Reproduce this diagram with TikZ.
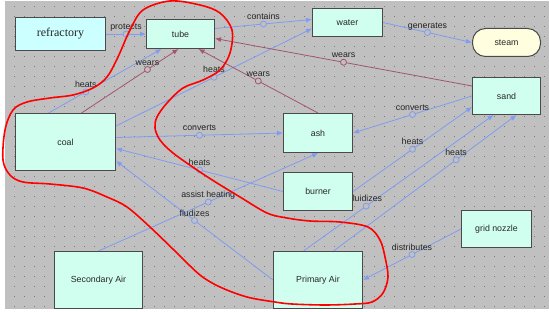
\documentclass[tikz,border=0pt]{standalone}
\usepackage{fontspec}
\setmainfont{Liberation Sans}
\newfontfamily\seriffont{Liberation Serif}
\usetikzlibrary{arrows.meta, positioning}

\definecolor{paper}{HTML}{C0C0C0}
\definecolor{dotgray}{HTML}{7A7A7A}
\definecolor{boxfill}{HTML}{D0FFF0}
\definecolor{refrfill}{HTML}{CCFFFF}
\definecolor{steamfill}{HTML}{FFFFE0}
\definecolor{boxline}{HTML}{4A4A4A}
\definecolor{linkblue}{HTML}{7F9CF0}
\definecolor{wearred}{HTML}{A35470}
\definecolor{textgray}{HTML}{262626}

\pgfdeclarelayer{grid}
\pgfdeclarelayer{links}
\pgfdeclarelayer{marks}
\pgfsetlayers{grid,links,main,marks}

\begin{document}
\begin{tikzpicture}[
        x=1pt, y=-1pt,
        box/.style={rectangle, draw=boxline, fill=boxfill, line width=1pt, inner sep=0pt, text=textgray, font=\fontsize{8.8}{10}\selectfont},
        arrow/.style={line width=0.8pt, draw=linkblue, ->, >={Latex[length=6pt,width=5pt]}},
        wear/.style={arrow, draw=wearred},
        hub/.style={circle, draw=linkblue, fill=paper, line width=0.8pt, inner sep=0pt, minimum size=6pt, label distance=1pt},
        wearhub/.style={hub, draw=wearred},
        lbl/.style={inner sep=0.5pt, text depth=0pt, text=textgray, font=\fontsize{8.8}{10}\selectfont},
        outline/.style={draw=red, line width=1.6pt}
    ]
        \useasboundingbox (0,0) rectangle (549,312);

        % dotted canvas
        \begin{pgfonlayer}{grid}
            \fill[paper] (5,1) rectangle (549,309);
            \foreach \gx in {14,24,...,544}
                \foreach \gy in {6,16,...,306}
                    \fill[dotgray] (\gx,\gy) rectangle ++(1,1);
        \end{pgfonlayer}

        % entities
        \node[box, anchor=north west, minimum width=90pt, minimum height=33pt, fill=refrfill, font=\seriffont\fontsize{12}{14}\selectfont] (refractory) at (15,17) {refractory};
        \node[box, right=40pt of refractory, minimum width=68pt, minimum height=29pt] (tube) {tube};
        \node[box, anchor=north west, minimum width=70pt, minimum height=28pt] (water) at (312,8) {water};
        \node[box, anchor=north west, minimum width=68pt, minimum height=28pt, rounded corners=13pt, fill=steamfill] (steam) at (472,28) {steam};
        \node[box, below=20pt of steam, minimum width=68pt, minimum height=37pt] (sand) {sand};
        \node[box, anchor=north west, minimum width=100pt, minimum height=57pt] (coal) at (15,113) {coal};
        \node[box, anchor=north west, minimum width=69pt, minimum height=39pt] (ash) at (283,113) {ash};
        \node[box, below=19pt of ash, minimum width=69pt, minimum height=38pt] (burner) {burner};
        \node[box, below=40pt of burner, minimum width=89pt, minimum height=57pt] (primair) {Primary Air};
        \node[box, left=130pt of primair, minimum width=88pt, minimum height=57pt] (secair) {Secondary Air};
        \node[box, anchor=north west, minimum width=70pt, minimum height=37pt] (grid) at (461,210) {grid nozzle};

        % relations
        \begin{pgfonlayer}{links}
            \draw[arrow] (refractory.east) -- node[hub, label={[lbl]above:protects}] {} (tube.west);
            \draw[arrow] ([yshift=5.5pt]tube.east) -- node[hub, label={[lbl]above:contains}] {} ([yshift=3pt]water.west);
            \draw[arrow] (water.east) -- node[hub, label={[lbl]above:generates}] {} (steam.west);
            \draw[arrow] ([xshift=-17pt]coal.north) -- node[hub, pos=.33, label={[lbl]above:heats}] {} ([xshift=-19pt]tube.south);
            \draw[wear] ([xshift=16pt]coal.north) -- node[wearhub, pos=.68, label={[lbl]above:wears}] {} ([xshift=-2pt]tube.south);
            \draw[arrow] ([yshift=16pt]coal.east) -- node[hub, label={[lbl]above:heats}] {} ([yshift=-6pt]water.west);
            \draw[wear] (ash.north) -- node[wearhub, label={[lbl]above:wears}] {} ([xshift=18pt]tube.south);
            \draw[wear] ([yshift=-9pt]sand.north west) -- node[wearhub, label={[lbl]above:wears}] {} ([yshift=-4.5pt]tube.east);
            \draw[arrow] ([yshift=4.5pt]coal.east) -- node[hub, label={[lbl]above:converts}] {} (ash.west);
            \draw[arrow] (sand.west) -- node[hub, label={[lbl]above:converts}] {} (ash.east);
            \draw[arrow] (burner.west) -- node[hub, label={[lbl]above:heats}] {} ([yshift=-6.5pt]coal.east);
            \draw[arrow] (secair.north) -- node[hub, label={[lbl]above:assist heating}] {} (ash.south);
            \draw[arrow] (primair.west) -- node[hub, label={[lbl]above:fludizes}] {} ([yshift=10pt]coal.south east);
            \draw[arrow] (burner.east) -- node[hub, label={[lbl]above:heats}] {} ([yshift=8pt]sand.south west);
            \draw[arrow] ([xshift=-14.5pt]primair.north) -- node[hub, pos=.33, label={[lbl]above:fluidizes}] {} ([xshift=-13pt]sand.south);
            \draw[arrow] ([xshift=15.5pt]primair.north) -- node[hub, pos=.67, label={[lbl]above:heats}] {} ([xshift=10pt]sand.south);
            \draw[arrow] (grid.west) -- node[hub, label={[lbl]above:distributes}] {} (primair.east);
        \end{pgfonlayer}

        % hand-drawn boundary
        \begin{pgfonlayer}{marks}
            \draw[outline] plot[smooth cycle, tension=0.55] coordinates {
                (10,175) (3,160) (5,130) (13,110) (27,102) (50,98) (73,95) (93,88)
                (107,77) (118,57) (130,30) (143,10) (170,1) (200,5) (220,13) (232,30)
                (230,53) (220,70) (203,80) (183,88) (167,103) (157,117) (155,128) (160,140)
                (173,153) (197,170) (217,183) (240,197) (267,213) (287,218) (310,221) (340,222)
                (368,227) (380,240) (385,257) (388,277) (383,293) (372,302) (355,304) (325,305)
                (292,304) (275,302) (247,297) (220,287) (200,275) (177,253) (150,227) (127,207)
                (107,197) (83,188) (50,184) (23,182)};
        \end{pgfonlayer}
    \end{tikzpicture}
\end{document}
